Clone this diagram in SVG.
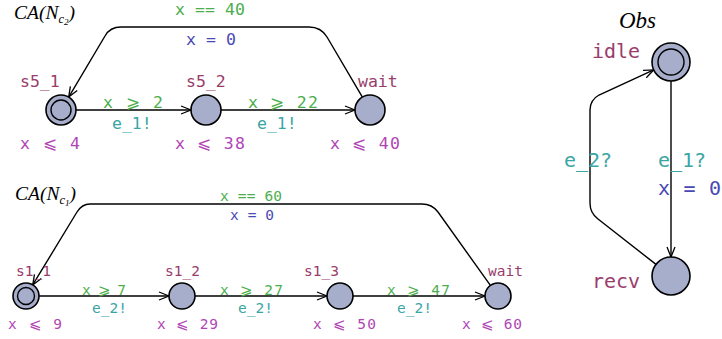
<svg xmlns="http://www.w3.org/2000/svg" width="722" height="339" viewBox="0 0 722 339">
<defs>
<marker id="arr" markerWidth="12" markerHeight="10" refX="10" refY="4" orient="auto" markerUnits="userSpaceOnUse" viewBox="-1 -1 12 10">
<path d="M0,0 L10,4 L0,8" fill="none" stroke="#000" stroke-width="1.3"/>
</marker>
</defs>
<style>
text{font-family:"DejaVu Sans Mono","Liberation Mono",monospace;}
.t{font-size:16.5px}
.b{font-size:14.5px}
.o{font-size:20px}
.name{fill:#993d6b}
.guard{fill:#4cae4c}
.sync{fill:#3aa5a5}
.assign{fill:#4a4ab3}
.inv{fill:#b045b5}
.st{fill:#a6aecb;stroke:#000;stroke-width:1.6}
.in{fill:none;stroke:#000;stroke-width:1.4}
.e{fill:none;stroke:#000;stroke-width:1.4;marker-end:url(#arr)}
.math{font-family:"Liberation Serif","DejaVu Serif",serif;font-style:italic;fill:#000}
</style>

<text class="math" x="14" y="19" font-size="19.5">CA(N<tspan font-size="12.5" dy="3.5">c</tspan><tspan font-size="9" dy="2">2</tspan><tspan dy="-5.5" font-size="19.5">)</tspan></text>
<text class="math" x="15" y="200" font-size="19.5">CA(N<tspan font-size="12.5" dy="3.5">c</tspan><tspan font-size="9" dy="2">1</tspan><tspan dy="-5.5" font-size="19.5">)</tspan></text>
<text class="math" x="619" y="28" font-size="23">Obs</text>

<g id="connectors">
<path class="e" d="M76,110 L191,110"/>
<path class="e" d="M221,110 L355,110"/>
<path class="e" d="M362.4,97.1 L327,37 Q321,27 309,27 L121,27 Q110,27 105,36 L68.7,97.1"/>
<path class="e" d="M39,296 L169,296"/>
<path class="e" d="M195,296 L327,296"/>
<path class="e" d="M353,296 L485,296"/>
<path class="e" d="M490.4,285.4 L438,212 Q432,204 422,204 L90,204 Q82,204 77,212 L32.7,284.9"/>
<path class="e" d="M671,81 L671,257"/>
<path class="e" d="M656,264.4 L598,219 Q590,213 590,203 L590,110 Q590,100 599,95 L653.7,69.9"/>
</g>

<g id="edge-labels">
<text class="t guard" x="175" y="15" textLength="70" lengthAdjust="spacing">x == 40</text>
<text class="t assign" x="186" y="45" textLength="50" lengthAdjust="spacing">x = 0</text>
<text class="t guard" x="103" y="108" textLength="60" lengthAdjust="spacing">x ⩾ 2</text>
<text class="t sync" x="112" y="129">e_1!</text>
<text class="t guard" x="248" y="108" textLength="70" lengthAdjust="spacing">x ⩾ 22</text>
<text class="t sync" x="257" y="129">e_1!</text>

<text class="b guard" x="220" y="201" textLength="62" lengthAdjust="spacing">x == 60</text>
<text class="b assign" x="230" y="220" textLength="44" lengthAdjust="spacing">x = 0</text>
<text class="b guard" x="82" y="295" textLength="44" lengthAdjust="spacing">x ⩾ 7</text>
<text class="b sync" x="92" y="313">e_2!</text>
<text class="b guard" x="220" y="295" textLength="63" lengthAdjust="spacing">x ⩾ 27</text>
<text class="b sync" x="238" y="313">e_2!</text>
<text class="b guard" x="387" y="295" textLength="63" lengthAdjust="spacing">x ⩾ 47</text>
<text class="b sync" x="397" y="313">e_2!</text>

<text class="o sync" x="564" y="167">e_2?</text>
<text class="o sync" x="658" y="167">e_1?</text>
<text class="o assign" x="658" y="195" textLength="63" lengthAdjust="spacing">x = 0</text>
</g>

<g id="s5_1">
<circle class="st" cx="61" cy="110" r="15"/>
<circle class="in" cx="61" cy="110" r="10"/>
<text class="t name" x="20" y="87">s5_1</text>
<text class="t inv" x="20" y="149" textLength="60" lengthAdjust="spacing">x ⩽ 4</text>
</g>
<g id="s5_2">
<circle class="st" cx="206" cy="110" r="15"/>
<text class="t name" x="186" y="87">s5_2</text>
<text class="t inv" x="175" y="149" textLength="70" lengthAdjust="spacing">x ⩽ 38</text>
</g>
<g id="wait_c2">
<circle class="st" cx="370" cy="110" r="15"/>
<text class="t name" x="358" y="87">wait</text>
<text class="t inv" x="330" y="149" textLength="70" lengthAdjust="spacing">x ⩽ 40</text>
</g>

<g id="s1_1">
<circle class="st" cx="26" cy="296" r="13"/>
<circle class="in" cx="26" cy="296" r="8.5"/>
<text class="b name" x="16" y="276">s1_1</text>
<text class="b inv" x="8" y="329" textLength="54" lengthAdjust="spacing">x ⩽ 9</text>
</g>
<g id="s1_2">
<circle class="st" cx="182" cy="296" r="13"/>
<text class="b name" x="165" y="276">s1_2</text>
<text class="b inv" x="157" y="329" textLength="61" lengthAdjust="spacing">x ⩽ 29</text>
</g>
<g id="s1_3">
<circle class="st" cx="340" cy="296" r="13"/>
<text class="b name" x="304" y="276">s1_3</text>
<text class="b inv" x="313" y="329" textLength="63" lengthAdjust="spacing">x ⩽ 50</text>
</g>
<g id="wait_c1">
<circle class="st" cx="498" cy="296" r="13"/>
<text class="b name" x="488" y="276">wait</text>
<text class="b inv" x="462" y="329" textLength="60" lengthAdjust="spacing">x ⩽ 60</text>
</g>

<g id="idle">
<circle class="st" cx="671" cy="62" r="19"/>
<circle class="in" cx="671" cy="62" r="13"/>
<text class="o name" x="592" y="58">idle</text>
</g>
<g id="recv">
<circle class="st" cx="671" cy="276" r="19"/>
<text class="o name" x="592" y="288">recv</text>
</g>
</svg>
